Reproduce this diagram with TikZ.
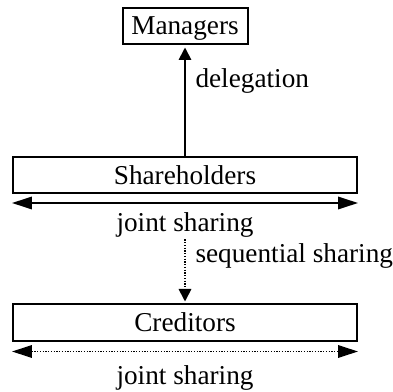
\documentclass[tikz,border=0pt]{standalone}
\usepackage{fontspec}
\setmainfont{Liberation Serif}
\usetikzlibrary{arrows.meta}

\begin{document}
\begin{tikzpicture}[x=0.4pt, y=-0.4pt, font=\fontsize{10.9pt}{13pt}\selectfont,
    box/.style={rectangle, draw, line width=0.8pt, minimum height=14.4pt, text depth=0pt, inner sep=0pt},
    lbl/.style={inner sep=0.4pt},
    solidarrow/.style={line width=0.7pt},
    dottedarrow/.style={line width=0.7pt, dash pattern=on 0.5pt off 0.6pt}]
            \useasboundingbox (0,0) rectangle (393,392);

            % Boxes
            \node[box, minimum width=50pt] (mgr) at (185,26) {Managers};
            \node[box, minimum width=137.6pt] (sh) at (185,175) {Shareholders};
            \node[box, minimum width=137.6pt] (cr) at (185,322.5) {Creditors};

            % Labels
            \node[lbl, anchor=base west] (dlg) at (194,88) {delegation};
            \node[lbl, anchor=base] (js1) at (185,232) {joint sharing};
            \node[lbl, anchor=base west] (seq) at (194,263) {sequential sharing};
            \node[lbl, anchor=base] (js2) at (185,385) {joint sharing};

            % End points of the sharing arrows
            \coordinate (shL) at ([yshift=-3.6pt]sh.south west);
            \coordinate (shR) at ([yshift=-3.6pt]sh.south east);
            \coordinate (crL) at ([yshift=-4pt]cr.south west);
            \coordinate (crR) at ([yshift=-4pt]cr.south east);

            % Arrows
            \draw[solidarrow, -{Triangle[length=5pt, width=5pt]}] (sh.north) -- ([yshift=-1pt]mgr.south); % delegation
            \draw[solidarrow, {Triangle[length=8pt, width=5pt]}-{Triangle[length=8pt, width=5pt]}] (shL) -- (shR); % joint, shareholders
            \draw[dottedarrow, -{Triangle[length=5pt, width=5pt]}] (js1.south) -- ([yshift=0.8pt]cr.north); % sequential
            \draw[dottedarrow, {Triangle[length=8pt, width=5pt]}-{Triangle[length=8pt, width=5pt]}] (crL) -- (crR); % joint, creditors

        \end{tikzpicture}
\end{document}
